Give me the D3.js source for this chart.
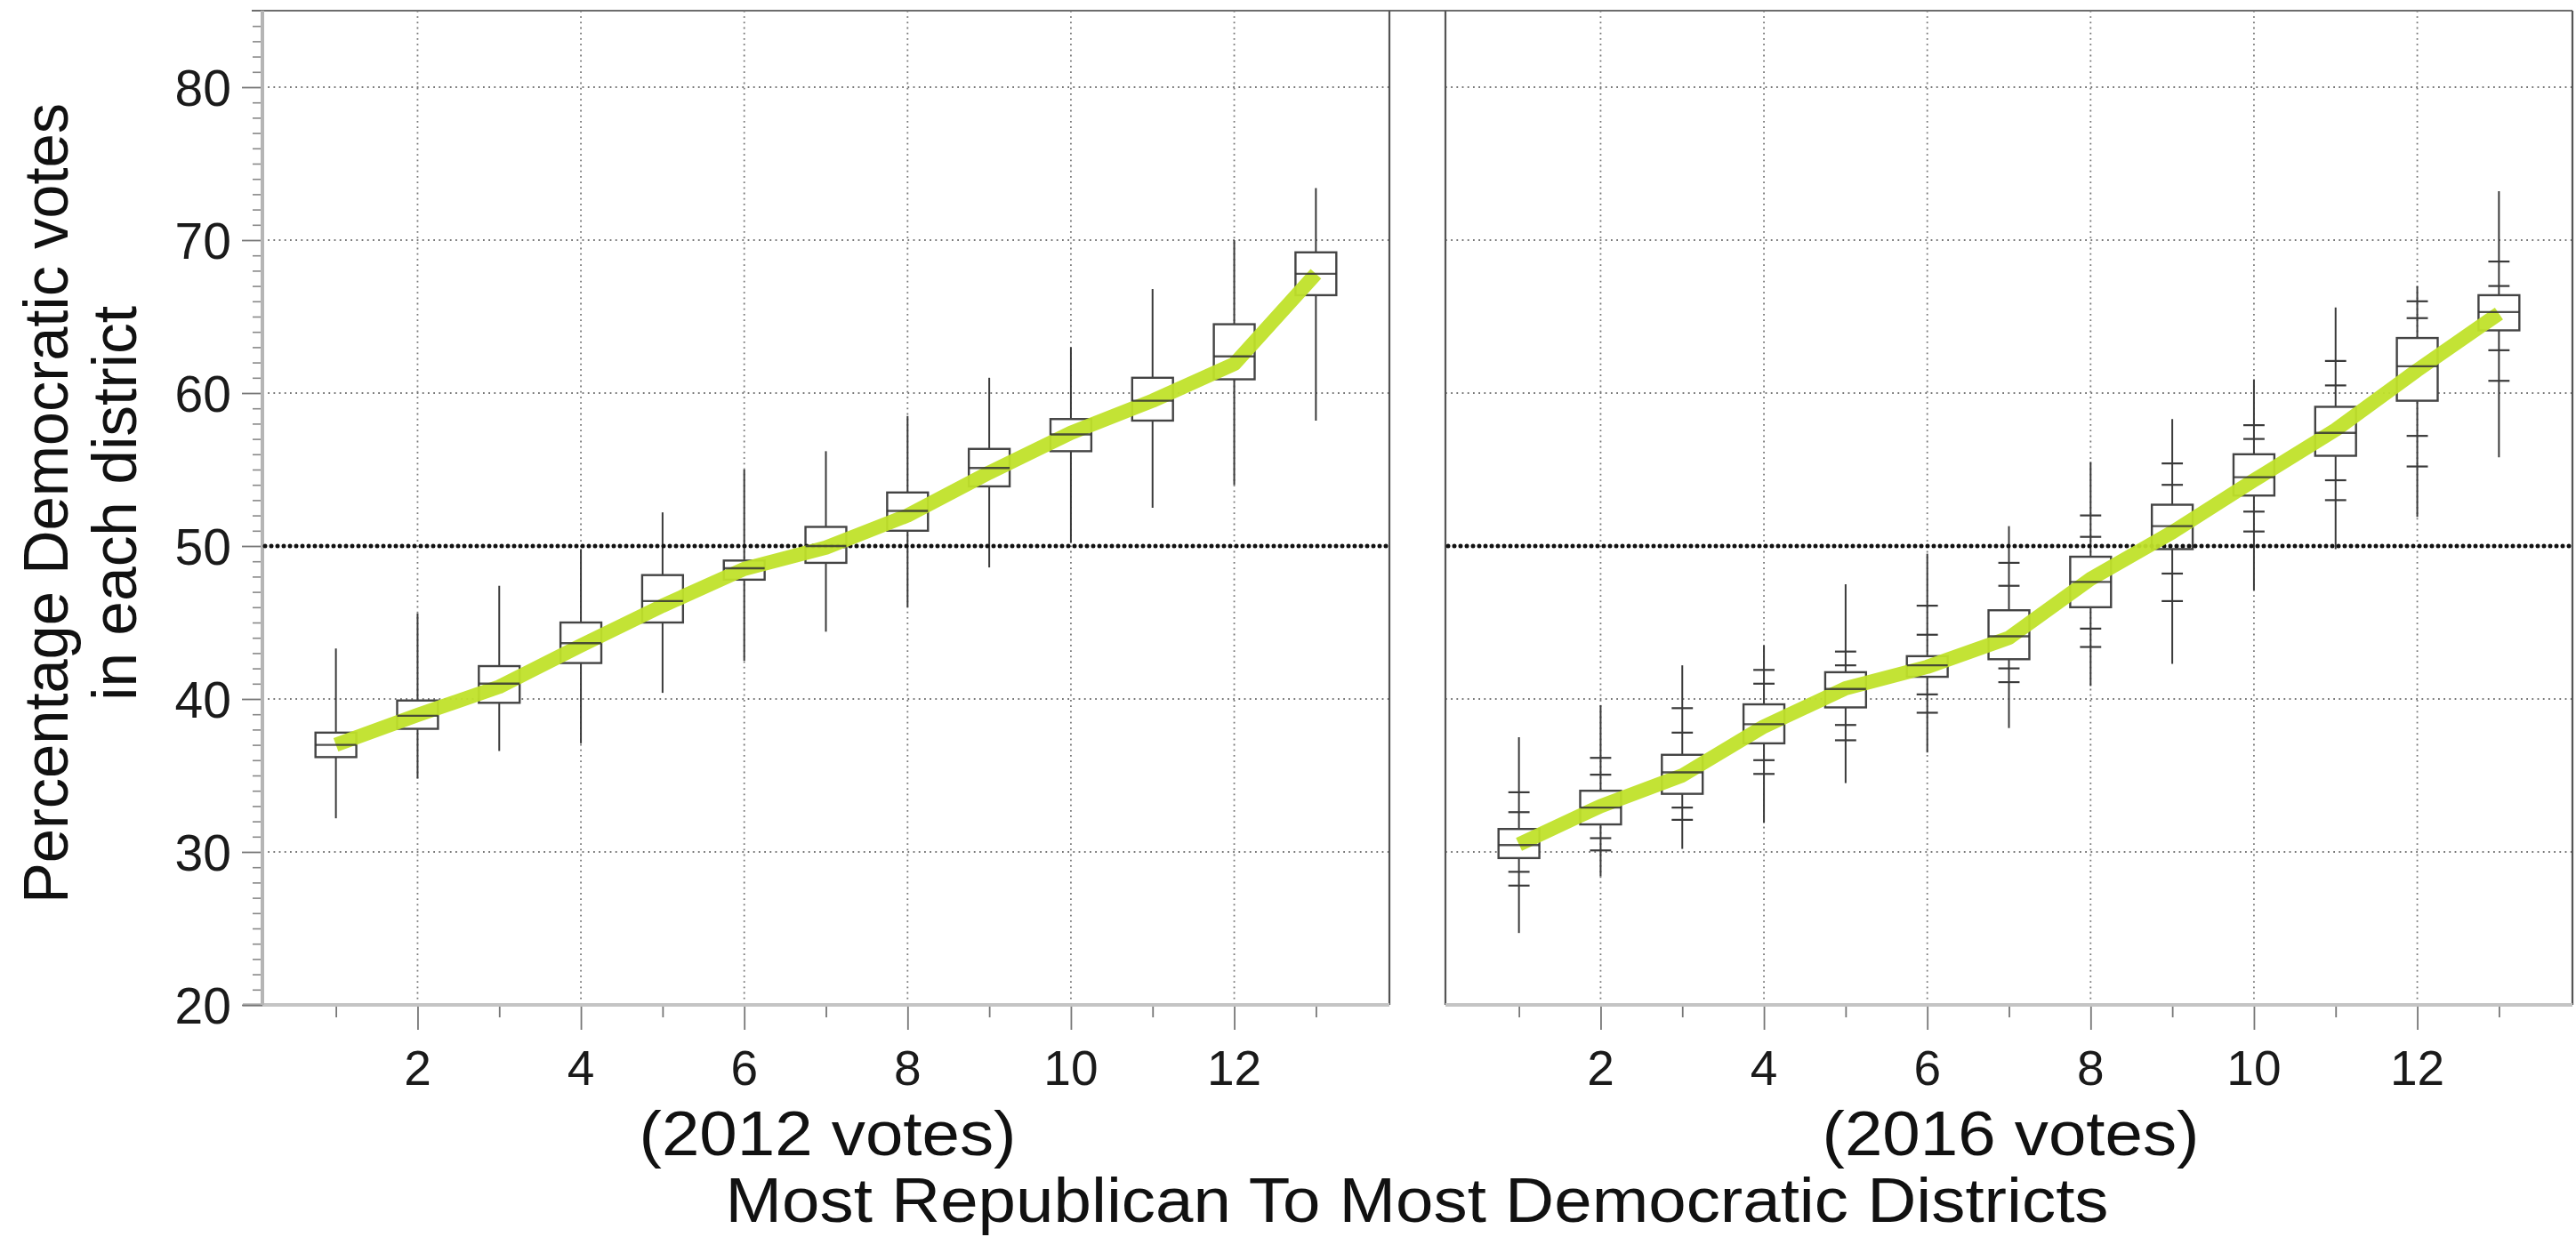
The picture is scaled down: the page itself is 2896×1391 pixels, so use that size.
<!DOCTYPE html>
<html><head><meta charset="utf-8">
<script src="https://cdn.jsdelivr.net/npm/d3@7/dist/d3.min.js"></script>
<style>body{margin:0;background:#fff}svg{display:block}</style>
</head><body>
<svg id="chart" width="2896" height="1391"></svg>
<script>
// ---------- data ----------
const districts = [1,2,3,4,5,6,7,8,9,10,11,12,13];
const xTickLabels = [2,4,6,8,10,12];
const yTickLabels = [20,30,40,50,60,70,80];
const panelTitles = ["(2012 votes)", "(2016 votes)"];
const xTitle = "Most Republican To Most Democratic Districts";
const yTitleLines = ["Percentage Democratic votes", "in each district"];

// 2012 votes
const min2012    = [32.2,34.8,36.6,37.1,40.4,42.5,44.4,46.0,48.6,50.2,52.5,54.0,58.2];
const q1_2012    = [36.2,38.05,39.75,42.35,45.0,47.8,48.9,51.0,53.9,56.2,58.2,60.9,66.4];
const median2012 = [37.0,38.9,41.0,43.65,46.4,48.55,50.0,52.3,55.1,57.3,59.5,62.4,67.8];
const q3_2012    = [37.8,39.9,42.15,45.0,48.1,49.05,51.25,53.5,56.35,58.3,61.0,64.5,69.2];
const max2012    = [43.3,45.6,47.4,49.8,52.2,55.0,56.2,58.5,61.0,63.0,66.8,70.0,73.4];
const trend2012  = [37.0,38.95,40.8,43.5,46.1,48.5,49.9,52.0,54.8,57.4,59.5,61.9,67.8];

// 2016 votes
const min2016    = [24.7,28.4,30.2,31.9,34.5,36.5,38.1,40.85,42.3,47.1,49.8,51.9,55.8];
const p05_2016   = [27.8,30.1,32.1,35.1,37.3,39.1,41.1,43.4,46.4,50.95,53.0,55.2,60.8];
const p10_2016   = [28.7,30.9,32.9,36.0,38.3,40.3,42.0,44.6,48.2,52.25,54.3,57.2,62.8];
const q1_2016    = [29.6,31.8,33.8,37.1,39.45,41.45,42.6,46.0,49.8,53.3,55.9,59.5,64.1];
const median2016 = [30.45,32.9,35.2,38.35,40.65,42.2,44.1,47.65,51.3,54.5,57.4,61.75,65.3];
const q3_2016    = [31.5,34.0,36.35,39.65,41.75,42.8,45.8,49.3,52.7,56.0,59.1,63.6,66.4];
const p90_2016   = [32.6,35.05,37.8,41.0,42.2,44.2,47.4,50.6,54.0,57.0,60.5,64.9,67.0];
const p95_2016   = [33.9,36.15,39.4,41.9,43.1,46.1,48.9,52.0,55.4,57.9,62.1,66.0,68.6];
const max2016    = [37.5,39.6,42.2,43.5,47.5,49.5,51.3,55.5,58.3,60.9,65.6,67.0,73.2];
const trend2016  = [30.5,33.0,35.0,38.2,40.7,42.1,44.0,47.85,50.9,54.3,57.6,61.5,65.2];

// ---------- layout ----------
const FONT = "'Liberation Sans', Arial, Helvetica, sans-serif";
const plotTop = 12, plotBottom = 1130;
const y = d3.scaleLinear().domain([20, 85]).range([plotBottom, plotTop]);
const svg = d3.select("#chart");

const panels = [
  {x0: 295, x1: 1562, title: panelTitles[0], yAxis: true,
   rows: districts.map((d,i)=>({d, lo:min2012[i], q1:q1_2012[i], med:median2012[i], q3:q3_2012[i], hi:max2012[i], trend:trend2012[i], extra:[]}))},
  {x0: 1625, x1: 2892, title: panelTitles[1], yAxis: false,
   rows: districts.map((d,i)=>({d, lo:min2016[i], q1:q1_2016[i], med:median2016[i], q3:q3_2016[i], hi:max2016[i], trend:trend2016[i],
     extra:[p05_2016[i], p10_2016[i], p90_2016[i], p95_2016[i]]}))}
];

// continuous top border
svg.append("line").attr("x1", 283).attr("x2", 2892).attr("y1", plotTop).attr("y2", plotTop)
  .attr("stroke", "#6d6d6d").attr("stroke-width", 2.2);

panels.forEach(p => {
  const x = d3.scaleLinear().domain([0.1, 13.9]).range([p.x0, p.x1]);
  const g = svg.append("g");
  const unit = x(1) - x(0);

  // dotted grid
  g.selectAll(".hg").data(yTickLabels.filter(v => v > 20 && v !== 50)).join("line")
    .attr("x1", p.x0).attr("x2", p.x1).attr("y1", d => y(d)).attr("y2", d => y(d))
    .attr("stroke", "#777").attr("stroke-width", 1.8).attr("stroke-dasharray", "1.8,4.4");
  g.selectAll(".vg").data(xTickLabels).join("line")
    .attr("x1", d => x(d)).attr("x2", d => x(d)).attr("y1", plotTop).attr("y2", plotBottom)
    .attr("stroke", "#777").attr("stroke-width", 1.8).attr("stroke-dasharray", "1.8,4.4");

  // panel borders
  g.append("line").attr("x1", p.x1).attr("x2", p.x1).attr("y1", plotTop).attr("y2", plotBottom)
    .attr("stroke", "#555").attr("stroke-width", 2.2);
  if (!p.yAxis) {
    g.append("line").attr("x1", p.x0).attr("x2", p.x0).attr("y1", plotTop).attr("y2", plotBottom)
      .attr("stroke", "#555").attr("stroke-width", 2.2);
  }

  // x axis (light grey) with ticks
  const xAxis = d3.axisBottom(x).tickValues(districts).tickSize(0).tickFormat("");
  const xa = g.append("g").attr("transform", `translate(0,${plotBottom})`).call(xAxis);
  xa.select(".domain").remove();
  g.append("line").attr("x1", p.yAxis ? p.x0 - 22 : p.x0).attr("x2", p.x1)
    .attr("y1", plotBottom).attr("y2", plotBottom).attr("stroke", "#c4c4c4").attr("stroke-width", 4);
  xa.selectAll(".tick line").attr("y2", d => d % 2 === 0 ? 28 : 14)
    .attr("stroke", "#777").attr("stroke-width", 1.8);
  g.selectAll(".xl").data(xTickLabels).join("text")
    .attr("x", d => x(d)).attr("y", 1220).attr("text-anchor", "middle")
    .attr("font-family", FONT).attr("font-size", 55).attr("fill", "#1a1a1a").text(d => d);

  // y axis (left panel only)
  if (p.yAxis) {
    const minor = d3.range(21, 85).filter(v => v % 10 !== 0);
    const ya = g.append("g").attr("transform", `translate(${p.x0},0)`)
      .call(d3.axisLeft(y).tickValues(yTickLabels).tickSize(23).tickFormat(""));
    ya.select(".domain").remove();
    ya.selectAll(".tick line").attr("stroke", "#777").attr("stroke-width", 1.8);
    const ym = g.append("g").attr("transform", `translate(${p.x0},0)`)
      .call(d3.axisLeft(y).tickValues(minor).tickSize(11).tickFormat(""));
    ym.select(".domain").remove();
    ym.selectAll(".tick line").attr("stroke", "#888").attr("stroke-width", 1.6);
    g.append("line").attr("x1", p.x0).attr("x2", p.x0).attr("y1", plotTop).attr("y2", plotBottom)
      .attr("stroke", "#b5b5b5").attr("stroke-width", 4);
    g.selectAll(".yl").data(yTickLabels).join("text")
      .attr("x", 260).attr("y", d => y(d)).attr("dy", "0.36em").attr("text-anchor", "end")
      .attr("font-family", FONT).attr("font-size", 57).attr("fill", "#1a1a1a").text(d => d);
  }

  // whiskers
  g.selectAll(".wh").data(p.rows).join("line")
    .attr("x1", d => x(d.d)).attr("x2", d => x(d.d)).attr("y1", d => y(d.lo)).attr("y2", d => y(d.hi))
    .attr("stroke", "#3a3a3a").attr("stroke-width", 2);
  // percentile tick marks
  const ticks = p.rows.flatMap(r => r.extra.map(v => ({d: r.d, v})));
  g.selectAll(".pt").data(ticks).join("line")
    .attr("x1", d => x(d.d) - unit * 0.13).attr("x2", d => x(d.d) + unit * 0.13)
    .attr("y1", d => y(d.v)).attr("y2", d => y(d.v))
    .attr("stroke", "#3a3a3a").attr("stroke-width", 2.2);
  // boxes
  g.selectAll(".bx").data(p.rows).join("rect")
    .attr("x", d => x(d.d) - unit * 0.25).attr("width", unit * 0.5)
    .attr("y", d => y(d.q3)).attr("height", d => y(d.q1) - y(d.q3))
    .attr("fill", "#fff").attr("stroke", "#444").attr("stroke-width", 2.4);

  // 50% reference line
  g.append("line").attr("x1", p.x0 + 3).attr("x2", p.x1 - 3).attr("y1", y(50)).attr("y2", y(50))
    .attr("stroke", "#111").attr("stroke-width", 5).attr("stroke-linecap", "round")
    .attr("stroke-dasharray", "0,7");

  // trend line
  const line = d3.line().x(d => x(d.d)).y(d => y(d.trend)).curve(d3.curveLinear);
  g.append("path").datum(p.rows).attr("d", line).attr("fill", "none")
    .attr("stroke", "#c0e12a").attr("stroke-width", 16).attr("stroke-linecap", "butt")
    .attr("stroke-linejoin", "round").attr("stroke-opacity", 0.95);

  // medians on top
  g.selectAll(".md").data(p.rows).join("line")
    .attr("x1", d => x(d.d) - unit * 0.25).attr("x2", d => x(d.d) + unit * 0.25)
    .attr("y1", d => y(d.med)).attr("y2", d => y(d.med))
    .attr("stroke", "#333").attr("stroke-width", 2.4).attr("stroke-opacity", 0.85);

  // panel title
  svg.append("text").attr("x", (p.x0 + p.x1) / 2 + 2).attr("y", 1299).attr("text-anchor", "middle")
    .attr("font-family", FONT).attr("font-size", 70).attr("fill", "#111")
    .attr("textLength", 424).attr("lengthAdjust", "spacingAndGlyphs").text(p.title);
});

// x title
svg.append("text").attr("x", 1593).attr("y", 1374).attr("text-anchor", "middle")
  .attr("font-family", FONT).attr("font-size", 70).attr("fill", "#111")
  .attr("textLength", 1555).attr("lengthAdjust", "spacingAndGlyphs").text(xTitle);

// y title (two lines, rotated)
const yt = svg.append("g").attr("transform", "translate(0,566) rotate(-90)");
yt.append("text").attr("x", 0).attr("y", 76).attr("text-anchor", "middle")
  .attr("font-family", FONT).attr("font-size", 70).attr("fill", "#111")
  .attr("textLength", 900).attr("lengthAdjust", "spacingAndGlyphs").text(yTitleLines[0]);
yt.append("text").attr("x", 0).attr("y", 153).attr("text-anchor", "middle")
  .attr("font-family", FONT).attr("font-size", 70).attr("fill", "#111")
  .attr("textLength", 444).attr("lengthAdjust", "spacingAndGlyphs").text(yTitleLines[1]);
</script>
</body></html>
